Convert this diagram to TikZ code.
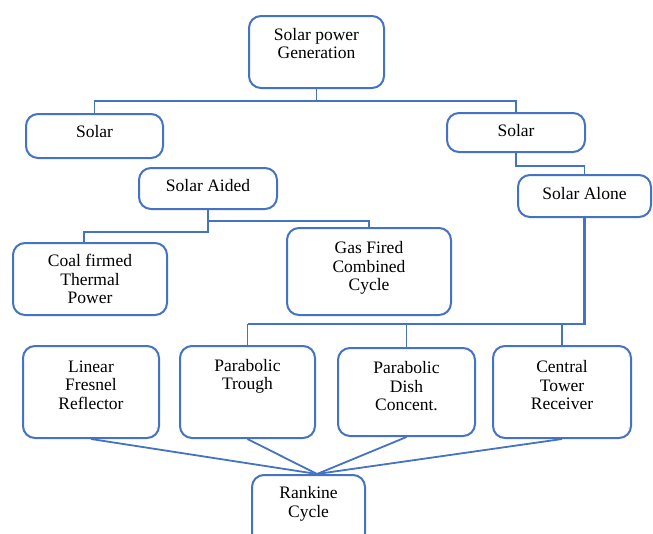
\documentclass[tikz,border=0pt]{standalone}
\usepackage{fontspec}
\setmainfont{Liberation Serif}
\usetikzlibrary{calc}
\definecolor{boxblue}{RGB}{68,114,196}

\begin{document}
\begin{tikzpicture}[x=1pt,y=-1pt,
  box/.style={draw=boxblue,line width=2pt,rounded corners=12pt,align=center,inner sep=2pt,
    font=\fontsize{17.5}{18.5}\selectfont,text depth=7pt},
  link/.style={draw=boxblue,line width=1.8pt}]
\useasboundingbox (0,0) rectangle (653,533);
\clip (0,0) rectangle (653,533);
\node[box,minimum width=135pt,minimum height=72pt,text depth=17pt] at (316.5,52) (gen) {Solar power\\Generation};
\node[box,minimum width=137pt,minimum height=44pt,text depth=10pt] at (94.5,136) (solarL) {Solar};
\node[box,minimum width=138pt,minimum height=39pt,text depth=5pt] at (516,132.5) (solarR) {Solar};
\node[box,minimum width=138pt,minimum height=41pt] at (208,188.5) (aided) {Solar Aided};
\node[box,minimum width=133pt,minimum height=42pt,text depth=6pt] at (584.5,196) (alone) {Solar Alone};
\node[box,minimum width=154pt,minimum height=72pt,text depth=0pt] at (90,279) (coal) {Coal firmed\\Thermal\\Power};
\node[box,minimum width=164pt,minimum height=87pt,text depth=11pt] at (369,271.5) (gas) {Gas Fired\\Combined\\Cycle};
\node[box,minimum width=136pt,minimum height=92pt,text depth=14pt] at (91,392) (fresnel) {Linear\\Fresnel\\Reflector};
\node[box,minimum width=135pt,minimum height=92pt,text depth=35pt] at (247.5,392) (trough) {Parabolic\\Trough};
\node[box,minimum width=137pt,minimum height=88pt,text depth=12pt] at (406.5,392) (dish) {Parabolic\\Dish\\Concent.};
\node[box,minimum width=138pt,minimum height=92pt,text depth=14pt] at (562,392) (tower) {Central\\Tower\\Receiver};
\node[box,minimum width=113pt,minimum height=70pt,text depth=16pt] at (308.5,510) (rankine) {Rankine\\Cycle};
\coordinate (meet) at ($(rankine.north)+(8.5,0)$);
% tree
\draw[link] (gen.south) -- ++(0,12);
\draw[link] (solarL.north) |- ($(gen.south)+(0,12)$) -| (solarR.north);
\draw[link] (solarR.south) -- ++(0,13) -| (alone.north);
\draw[link] (aided.south) -- ++(0,22) -| ($(coal.north)+(-6,0)$);
\draw[link] (aided.south) -- ++(0,11) -| (gas.north);
\draw[link,line width=2.6pt] (alone.south) |- ($(trough.north)+(0,-21)$);
\draw[link] (trough.north) -- ++(0,-21);
\draw[link] (dish.north) -- ++(0,-23);
\draw[link] (tower.north) -- ++(0,-21);
% to rankine
\draw[link] (fresnel.south) -- (meet);
\draw[link] (trough.south) -- (meet);
\draw[link] (dish.south) -- (meet);
\draw[link] (tower.south) -- (meet);
\end{tikzpicture}
\end{document}
